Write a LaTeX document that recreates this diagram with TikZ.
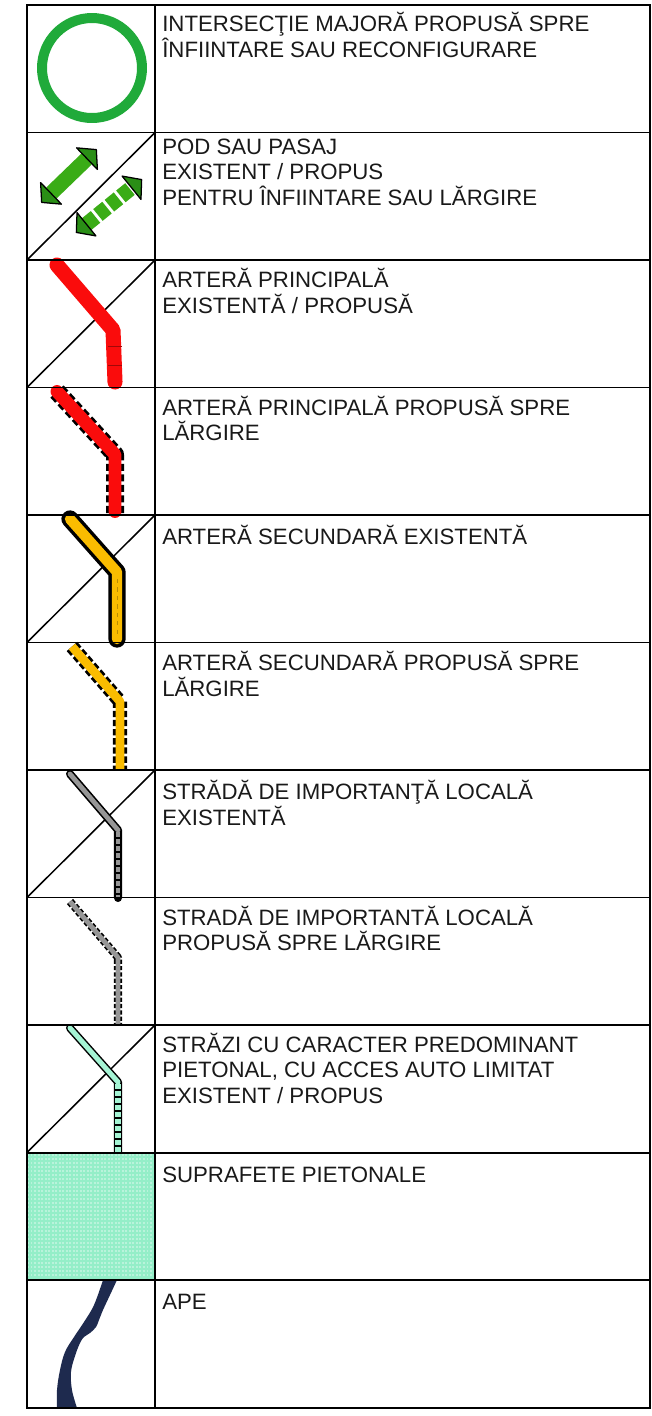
\documentclass[tikz,border=0pt]{standalone}
\usepackage{fontspec}
\setmainfont{Liberation Sans}

\definecolor{ringgreen}{RGB}{32,170,58}
\definecolor{arrowgreen}{RGB}{58,172,22}
\definecolor{headgreen}{RGB}{42,142,22}
\definecolor{roadred}{RGB}{250,12,12}
\definecolor{roadorange}{RGB}{250,188,0}
\definecolor{roadgrey}{RGB}{150,150,150}
\definecolor{walkmint}{RGB}{165,244,212}
\definecolor{areamint}{RGB}{148,238,200}
\definecolor{water}{RGB}{30,42,78}

\begin{document}
\begin{tikzpicture}[
        x=0.025cm, y=-0.025cm,
        line join=round,
        % multi-line labels sit on their last baseline
        lbl/.style={anchor=base west, align=left, inner sep=0pt,
            text=black!90, font=\fontsize{15.8}{17.8}\selectfont},
        gridline/.style={line width=1.4pt, line cap=rect},
        diag/.style={line width=1.1pt},
        head/.style={fill=headgreen, draw=black, line width=0.9pt}
        ]
    \useasboundingbox (0,0) rectangle (652,1416);

    % Diagonals (existent / propus):
    \foreach \i in {2,3,5,7,9}
    \draw[diag] (27,{5+127.5*\i}) -- (155,{5+127.5*(\i-1)});

    % Row 1: intersection
    \draw[ringgreen, line width=7.1pt] (92,68) circle[radius=50];

    % Row 2: bridge arrows
    \begin{scope}[shift={(69,176)}, rotate=44]
        \draw[arrowgreen, line width=10.7pt] (-25,0) -- (25,0);
        \filldraw[head] (38,0) -- (25,-15) -- (25,15) -- cycle;
        \filldraw[head] (-38,0) -- (-25,-15) -- (-25,15) -- cycle;
    \end{scope}
    \begin{scope}[shift={(109,206)}, rotate=39]
        \draw[arrowgreen, line width=10.7pt,
            dash pattern=on 8.3pt off 2.2pt] (-29,0) -- (29,0);
        \filldraw[head] (42,0) -- (29,-15) -- (29,15) -- cycle;
        \filldraw[head] (-42,0) -- (-29,-15) -- (-29,15) -- cycle;
    \end{scope}

    % Row 3: main artery
    \begin{scope}[shift={(0,260)}]
        \draw[roadred, line width=10.7pt, line cap=round]
            (57,5) -- (113,70) -- (115,122);
        \foreach \v in {86,105}
        \draw[roadred!65!black, line width=0.5pt] (108,\v) -- (122,\v);
    \end{scope}

    % Row 4: main artery, widening
    \begin{scope}[shift={(0,387.5)}]
        \draw[black, line width=12.8pt, dash pattern=on 5pt off 2.5pt]
            (57,4) -- (115,67) -- (115,127);
        \draw[roadred, line width=9.2pt, line cap=round]
            (57,4) -- (115,67) -- (115,124);
    \end{scope}

    % Row 5: secondary artery
    \begin{scope}[shift={(0,515)}]
        \draw[black, line width=12.3pt, line cap=round]
            (70,4) -- (117,57) -- (117,124);
        \draw[roadorange, line width=7.4pt, line cap=round]
            (70,4) -- (117,57) -- (117,124);
        \draw[roadorange!75!black, line width=0.6pt,
            dash pattern=on 3pt off 3pt] (117,64) -- (117,122);
    \end{scope}

    % Row 6: secondary artery, widening
    \begin{scope}[shift={(0,642.5)}]
        \draw[black, line width=10pt, dash pattern=on 4.5pt off 2pt]
            (72,4) -- (120,59) -- (120,127.5);
        \draw[roadorange, line width=6.2pt]
            (72,4) -- (120,59) -- (120,127.5);
    \end{scope}

    % Row 7: local street
    \begin{scope}[shift={(0,770)}]
        \draw[black, line width=5.7pt, line cap=round]
            (70,4) -- (118,60) -- (118,128);
        \draw[roadgrey, line width=3.4pt, line cap=round] (70,4) -- (118,60);
        \draw[roadgrey, line width=3.4pt,
            dash pattern=on 3.6pt off 1.4pt] (118,62) -- (118,128);
    \end{scope}

    % Row 8: local street, widening
    \begin{scope}[shift={(0,897.5)}]
        \draw[black, line width=5.7pt, dash pattern=on 3pt off 1.5pt]
            (70,4) -- (118,60) -- (118,128);
        \draw[roadgrey, line width=3.4pt]
            (70,4) -- (118,60) -- (118,128);
    \end{scope}

    % Row 9: pedestrian street
    \begin{scope}[shift={(0,1025)}]
        \draw[black, line width=5.7pt, line cap=round]
            (70,3) -- (118,57) -- (118,128);
        \draw[walkmint, line width=3.6pt, line cap=round] (70,3) -- (118,57);
        \draw[walkmint, line width=3.6pt,
            dash pattern=on 3.6pt off 1.4pt] (118,59) -- (118,128);
    \end{scope}

    % Row 10: pedestrian area
    \fill[areamint] (27,1152.5) rectangle (155,1280);
    \foreach \v in {1155,1159,...,1278}
    \draw[white, opacity=0.35, line width=0.8pt,
        dash pattern=on 1.4pt off 1.1pt] (27,\v) -- (155,\v);

    % Row 11: water
    \fill[water]
        plot[smooth, tension=0.6] coordinates {(57,1408) (57,1390) (60,1370)
            (65,1352) (74,1337) (84,1322) (94,1305) (103,1280)}
        -- plot[smooth, tension=0.6] coordinates {(117,1280) (110,1295)
            (103,1310) (99,1320) (96,1327) (90,1333) (84,1337) (80,1343)
            (75,1356) (71,1372) (72,1390) (77,1408)}
        -- cycle;

    % Grid:
    \foreach \i in {0,...,11}
    \draw[gridline] (27,{5+127.5*\i}) -- (650,{5+127.5*\i});
    \foreach \x in {27,155,650}
    \draw[gridline] (\x,5) -- (\x,1407.5);

    % Labels (y = first baseline + 25 per extra line):
    \node[lbl] (lblring) at (162,57)
        {INTERSECŢIE MAJORĂ PROPUSĂ SPRE\\ÎNFIINTARE SAU RECONFIGURARE};
    \node[lbl] (lblbridge) at (162,205)
        {POD SAU PASAJ\\EXISTENT / PROPUS\\PENTRU ÎNFIINTARE SAU LĂRGIRE};
    \node[lbl] (lblmain) at (162,313)
        {ARTERĂ PRINCIPALĂ\\EXISTENTĂ / PROPUSĂ};
    \node[lbl] (lblmainw) at (162,440.5)
        {ARTERĂ PRINCIPALĂ PROPUSĂ SPRE\\LĂRGIRE};
    \node[lbl] (lblsec) at (162,544)
        {ARTERĂ SECUNDARĂ EXISTENTĂ};
    \node[lbl] (lblsecw) at (162,696)
        {ARTERĂ SECUNDARĂ PROPUSĂ SPRE\\LĂRGIRE};
    \node[lbl] (lbllocal) at (162,825)
        {STRĂDĂ DE IMPORTANŢĂ LOCALĂ\\EXISTENTĂ};
    \node[lbl] (lbllocalw) at (162,950.5)
        {STRADĂ DE IMPORTANTĂ LOCALĂ\\PROPUSĂ SPRE LĂRGIRE};
    \node[lbl] (lblwalk) at (162,1103)
        {STRĂZI CU CARACTER PREDOMINANT\\PIETONAL, CU ACCES AUTO LIMITAT\\EXISTENT / PROPUS};
    \node[lbl] (lblarea) at (162,1182)
        {SUPRAFETE PIETONALE};
    \node[lbl] (lblwater) at (162,1309)
        {APE};
\end{tikzpicture}
\end{document}
